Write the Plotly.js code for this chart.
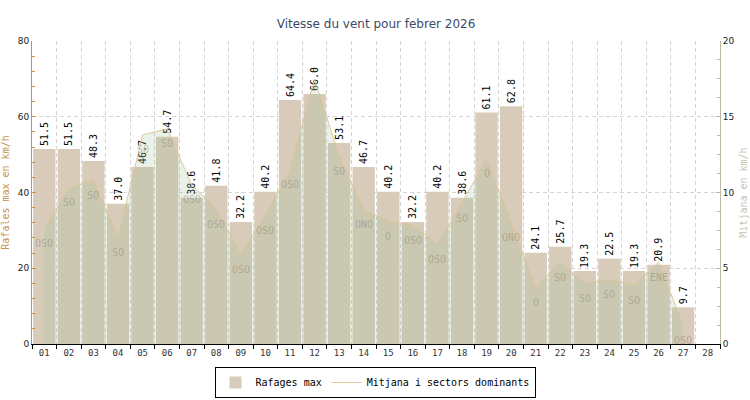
<!DOCTYPE html>
<html>
<head>
<meta charset="utf-8">
<script src="https://cdn.plot.ly/plotly-3.0.1.min.js"></script>
<style>html,body{margin:0;padding:0;background:#fff}#chart{width:750px;height:400px}</style>
</head>
<body>
<div id="chart"></div>
<script>
const days = ["01","02","03","04","05","06","07","08","09","10","11","12","13","14","15","16","17","18","19","20","21","22","23","24","25","26","27","28"];
const rafagesDays = ["01","02","03","04","05","06","07","08","09","10","11","12","13","14","15","16","17","18","19","20","21","22","23","24","25","26","27"];
const rafages = [51.5,51.5,48.3,37.0,46.7,54.7,38.6,41.8,32.2,40.2,64.4,66.0,53.1,46.7,40.2,32.2,40.2,38.6,61.1,62.8,24.1,25.7,19.3,22.5,19.3,20.9,9.7];
const mitjana = [7.6,10.3,10.8,7.0,13.8,14.2,10.5,8.9,5.9,8.5,11.5,17.5,12.4,8.9,8.1,7.85,6.6,9.3,12.25,8.0,3.7,5.4,4.0,4.25,3.85,5.4,1.25];
const sectors = ["OSO","SO","SO","SO","SO","SO","OSO","OSO","OSO","OSO","OSO","","SO","ONO","O","OSO","OSO","SO","O","ONO","O","SO","SO","SO","SO","ENE","OSO"];

const mono = "DejaVu Sans Mono";

const traces = [
  {
    type: "bar", name: "Rafages max", x: rafagesDays, y: rafages,
    marker: {color: "#d8cbb9", line: {width: 0}},
    text: rafages.map(v => v.toFixed(1)), textposition: "outside", textangle: -90,
    constraintext: "none", cliponaxis: false,
    textfont: {family: mono, size: 10, color: "#000"},
    hoverinfo: "skip"
  },
  {
    type: "scatter", mode: "lines", name: "area", x: rafagesDays, y: mitjana, yaxis: "y2",
    fill: "tozeroy", fillcolor: "rgba(160,190,150,0.22)",
    line: {width: 0, color: "rgba(0,0,0,0)"}, showlegend: false, hoverinfo: "skip"
  },
  {
    type: "scatter", mode: "lines", name: "Mitjana i sectors dominants", x: rafagesDays, y: mitjana, yaxis: "y2",
    line: {width: 1, color: "rgba(218,196,150,0.9)"}, hoverinfo: "skip"
  }
];

const annotations = sectors.map((s, i) => ({
  x: days.indexOf(rafagesDays[i]), y: mitjana[i], xref: "x", yref: "y2", text: s, showarrow: false,
  yshift: -15, font: {family: mono, size: 10, color: "rgba(130,125,110,0.45)"}
}));

const layout = {
  width: 750, height: 400,
  margin: {l: 32, r: 30, t: 41, b: 56, pad: 0},
  paper_bgcolor: "#fff", plot_bgcolor: "#fff",
  title: {text: "Vitesse du vent pour febrer 2026", x: 0.5, xref: "paper", y: 0.94, yanchor: "middle",
    font: {family: "DejaVu Sans", size: 12, color: "#3b4a68"}},
  bargap: 0.09,
  showlegend: true,
  legend: {orientation: "h", x: 0.5, xanchor: "center", xref: "container", y: 0.0825, yanchor: "top", yref: "container",
    bordercolor: "#000", borderwidth: 1, bgcolor: "#fff", itemwidth: 30,
    font: {family: mono, size: 10, color: "#000"}},
  xaxis: {type: "category", categoryorder: "array", categoryarray: days, range: [-0.5, 27.5],
    tickson: "boundaries", ticks: "outside", ticklen: 4, tickcolor: "#000",
    showgrid: true, gridcolor: "#d4d4d4", griddash: "4px,3px", gridwidth: 1,
    showline: true, linecolor: "#000", linewidth: 1,
    tickfont: {family: mono, size: 9, color: "#333"}, fixedrange: true},
  yaxis: {range: [0, 80], dtick: 20, tick0: 0, ticks: "inside", ticklen: 4, tickcolor: "#c8924a",
    minor: {dtick: 4, ticks: "inside", ticklen: 3, tickcolor: "#c8924a", showgrid: false},
    showgrid: true, gridcolor: "#d4d4d4", griddash: "4px,3px", zeroline: false,
    showline: true, linecolor: "#c8924a", linewidth: 1,
    tickfont: {family: "DejaVu Sans", size: 9, color: "#222"},
    title: {text: "Rafales max en km/h", font: {family: mono, size: 10, color: "#c8924a"}, standoff: 8}},
  yaxis2: {range: [0, 20], dtick: 5, tick0: 0, overlaying: "y", side: "right",
    ticks: "inside", ticklen: 4, tickcolor: "#c0b6a4",
    minor: {dtick: 1.25, ticks: "inside", ticklen: 3, tickcolor: "#c0b6a4", showgrid: false},
    showgrid: false, zeroline: false, showline: true, linecolor: "#c0b6a4", linewidth: 1,
    tickfont: {family: "DejaVu Sans", size: 9, color: "#222"},
    title: {text: "Mitjana en km/h", font: {family: mono, size: 10, color: "#cbc2b2"}, standoff: 6}},
  annotations: annotations
};

Plotly.newPlot("chart", traces, layout, {displayModeBar: false, staticPlot: true});
</script>
</body>
</html>
